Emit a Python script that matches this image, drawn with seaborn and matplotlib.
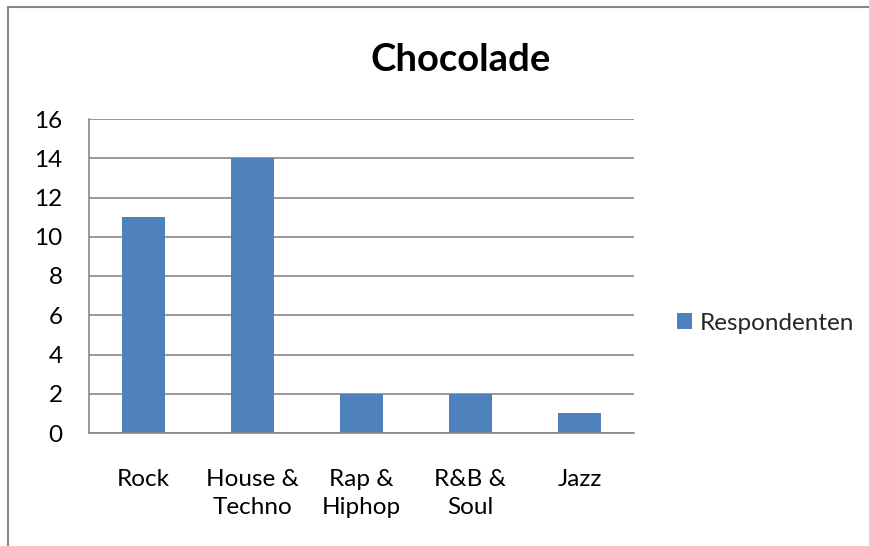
import matplotlib
matplotlib.use("Agg")
import matplotlib.pyplot as plt
from matplotlib.lines import Line2D
from matplotlib.patches import Patch
import seaborn as sns
import pandas as pd

categories = ["Rock", "House &\nTechno", "Rap &\nHiphop", "R&B &\nSoul", "Jazz"]
respondenten = [11, 14, 2, 2, 1]
y_ticks = [0, 2, 4, 6, 8, 10, 12, 14, 16]

sns.set_theme(style="white")
plt.rcParams["font.family"] = ["Lato", "DejaVu Sans"]

W, H = 869, 546
fig = plt.figure(figsize=(W / 100, H / 100), dpi=100)
fig.patch.set_facecolor("white")

# plot area in pixel coordinates
left, right, top, bottom = 89, 634, 119, 433
ax = fig.add_axes([left / W, 1 - bottom / H, (right - left) / W, (bottom - top) / H])

df = pd.DataFrame({"genre": categories, "n": respondenten})
sns.barplot(data=df, x="genre", y="n", color="#4F81BD", saturation=1,
            width=0.395, ax=ax, edgecolor="none")

label_size = 17.5
ax.set_ylim(0, 16)
ax.set_xlim(-0.5, len(categories) - 0.5)
ax.set_yticks(y_ticks)
ax.set_yticklabels([str(t) for t in y_ticks], fontsize=label_size, color="#000000")
ax.set_xticklabels(categories, fontsize=label_size, color="#000000", linespacing=1.42)
ax.tick_params(axis="x", length=0, pad=26)
ax.tick_params(axis="y", length=0, pad=19)
ax.set_xlabel("")
ax.set_ylabel("")

ax.yaxis.grid(True, color="#878787", linewidth=1.2)
ax.set_axisbelow(True)
for side in ["top", "right"]:
    ax.spines[side].set_visible(False)
for side in ["left", "bottom"]:
    ax.spines[side].set_color("#878787")
    ax.spines[side].set_linewidth(1.2)

fig.text(461 / W, 1 - 60 / H, "Chocolade", ha="center", va="center",
         fontsize=27.5, fontweight="bold", color="#000000")

handles = [Patch(facecolor="#4F81BD", edgecolor="none", label="Respondenten")]
fig.legend(handles=handles, loc="center left", bbox_to_anchor=(677 / W, 1 - 323 / H),
           frameon=False, fontsize=label_size, handlelength=0.62, handleheight=0.62,
           handletextpad=0.3, borderpad=0, borderaxespad=0)

# outer chart border (left and top edges visible)
fig.add_artist(Line2D([8 / W, 8 / W], [0, 1 - 7 / H], color="#888888", linewidth=1.5,
                      transform=fig.transFigure))
fig.add_artist(Line2D([8 / W, 1], [1 - 7 / H, 1 - 7 / H], color="#888888", linewidth=1.5,
                      transform=fig.transFigure))

fig.savefig("out.png", dpi=100)
